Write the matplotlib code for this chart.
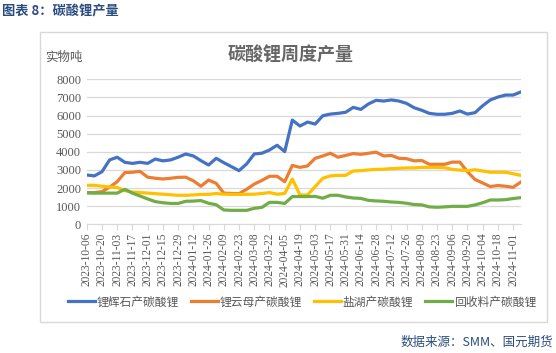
import matplotlib
matplotlib.use("Agg")
import matplotlib.pyplot as plt
from matplotlib.patches import Rectangle
import pandas as pd

CJK = ["Noto Sans CJK SC", "DejaVu Sans"]
NUM = ["Liberation Serif", "DejaVu Serif"]
GREY = "#595959"
NAVY = "#2B4C7E"

# weekly categories, labels shown every second week
weeks = pd.date_range("2023-10-06", periods=58, freq="7D").strftime("%Y-%m-%d").tolist()

spodumene = [2720, 2670, 2900, 3550, 3700, 3420, 3360, 3420, 3360, 3600,
             3500, 3550, 3700, 3880, 3770, 3510, 3270, 3640, 3400, 3180,
             2960, 3330, 3880, 3920, 4100, 4360, 4010, 5750, 5420, 5640,
             5530, 5990, 6080, 6120, 6180, 6450, 6340, 6640, 6840, 6800,
             6860, 6800, 6670, 6430, 6290, 6120, 6070, 6070, 6120, 6250,
             6080, 6160, 6540, 6860, 7020, 7130, 7130, 7300]
lepidolite = [1750, 1750, 1800, 2050, 2350, 2850, 2870, 2920, 2600, 2540,
              2500, 2540, 2590, 2600, 2400, 2100, 2440, 2260, 1720, 1700,
              1690, 1930, 2220, 2420, 2650, 2650, 2350, 3250, 3140, 3220,
              3640, 3770, 3920, 3700, 3800, 3900, 3860, 3920, 3980, 3770,
              3800, 3640, 3620, 3500, 3520, 3310, 3310, 3310, 3430, 3430,
              2900, 2470, 2280, 2080, 2140, 2100, 2040, 2330]
brine = [2150, 2150, 2100, 2060, 2030, 1860, 1780, 1750, 1720, 1690,
         1660, 1630, 1600, 1600, 1620, 1650, 1650, 1700, 1660, 1650,
         1650, 1650, 1660, 1700, 1750, 1660, 1700, 2500, 1620, 1620,
         2080, 2540, 2670, 2700, 2700, 2940, 2960, 3000, 3030, 3040,
         3070, 3090, 3110, 3110, 3140, 3140, 3140, 3120, 3030, 2990,
         2960, 3010, 2940, 2870, 2870, 2870, 2790, 2700]
recycled = [1730, 1720, 1720, 1720, 1720, 1930, 1720, 1560, 1400, 1250,
            1190, 1150, 1150, 1270, 1280, 1310, 1160, 1080, 790, 770,
            770, 770, 880, 930, 1210, 1210, 1150, 1530, 1530, 1530,
            1540, 1440, 1600, 1600, 1510, 1450, 1430, 1320, 1290, 1270,
            1230, 1210, 1160, 1090, 1070, 960, 940, 960, 990, 990,
            990, 1070, 1190, 1340, 1340, 1360, 1420, 1470]

series = [
    ("锂辉石产碳酸锂", spodumene, "#4472C4"),
    ("锂云母产碳酸锂", lepidolite, "#ED7D31"),
    ("盐湖产碳酸锂", brine, "#FFC000"),
    ("回收料产碳酸锂", recycled, "#70AD47"),
]
yticks = [0, 1000, 2000, 3000, 4000, 5000, 6000, 7000, 8000]

fig = plt.figure(figsize=(5.56, 3.53), dpi=100)
fig.patches.append(Rectangle((0.072, 0.088), 0.912, 0.8215, transform=fig.transFigure,
                             fill=False, edgecolor="#D9D9D9", linewidth=1.0))

ax = fig.add_axes([0.156, 0.3646, 0.7806, 0.4108])
x = list(range(len(weeks)))
handles = []
for name, vals, col in series:
    h, = ax.plot(x, vals, color=col, linewidth=2.3, label=name, solid_joinstyle="round")
    handles.append(h)

ax.set_xlim(0, len(weeks) - 1)
ax.set_ylim(0, 8000)
ax.set_yticks(yticks)
ax.set_yticklabels([str(v) for v in yticks], fontfamily=NUM, fontsize=9, color=GREY)
ax.yaxis.grid(True, color="#D9D9D9", linewidth=0.9)
ax.set_axisbelow(True)
ax.tick_params(axis="y", length=0, pad=4)

ax.set_xticks(x[::2])
ax.set_xticklabels(weeks[::2], rotation=90, fontfamily=NUM, fontsize=8.3, color=GREY)
ax.tick_params(axis="x", length=4, color="#D9D9D9", pad=2)

for side in ["left", "right", "top"]:
    ax.spines[side].set_visible(False)
ax.spines["bottom"].set_color("#D9D9D9")

fig.text(0.004, 0.968, "图表 8：碳酸锂产量", family=CJK, fontsize=9.5, color=NAVY,
         weight="bold", va="center", ha="left")
fig.text(0.523, 0.844, "碳酸锂周度产量", family=CJK, fontsize=13, color="#666666",
         weight="bold", va="center", ha="center")
fig.text(0.081, 0.838, "实物吨", family=CJK, fontsize=9, color=GREY, va="center", ha="left")
fig.text(0.995, 0.031, "数据来源：SMM、国元期货", family=CJK, fontsize=9, color=NAVY,
         va="center", ha="right")

fig.legend(handles=handles, loc="center", bbox_to_anchor=(0.543, 0.1445), ncol=4,
           frameon=False, prop={"family": CJK, "size": 8.5}, handlelength=2.3,
           handletextpad=0.15, columnspacing=1.0, labelcolor=GREY)

fig.savefig("out.png", dpi=100)
